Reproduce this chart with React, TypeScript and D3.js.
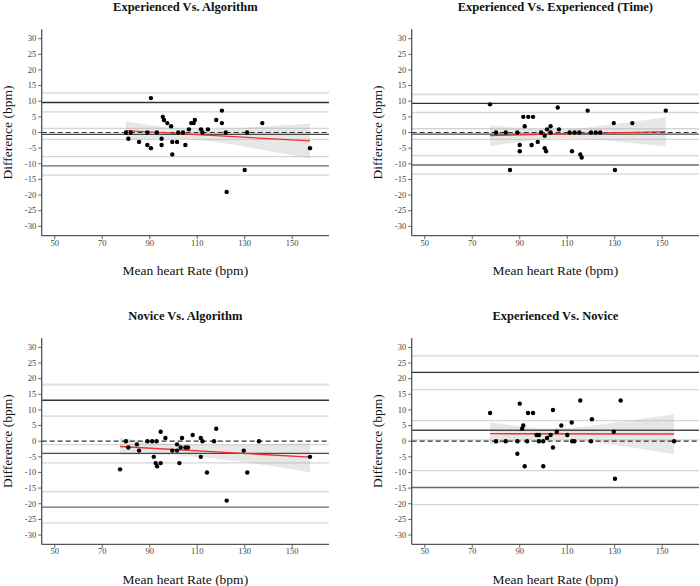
import React from "react";
import * as d3 from "d3";

// ---------- data ----------
const titles = [
  "Experienced Vs. Algorithm",
  "Experienced Vs. Experienced (Time)",
  "Novice Vs. Algorithm",
  "Experienced Vs. Novice",
];

const xTicks = [50, 70, 90, 110, 130, 150];
const yTicks = [30, 25, 20, 15, 10, 5, 0, -5, -10, -15, -20, -25, -30];

// scatter points
const expAlgX = [80, 81, 82, 85.5, 89, 89, 90.5, 90.5, 93, 95, 95, 95.5, 96, 97.4, 99, 99.5, 99.5, 101.5, 102, 104, 105, 106.5, 107.5, 108.5, 109, 111.6, 112.2, 114.5, 118, 120.4, 120.4, 122, 122.4, 130, 131, 137.4, 157.5];
const expAlgY = [0, -2, 0, -3, 0, -4, 11, -5, 0, -2, -4, 5, 4, 3, 2, -3, -7, -3, 0, 0, -4, 1, 3, 3, 4, 1, 0, 1, 4, 7, 3, 0, -19, -12, 0, 3, -5];

const expExpX = [77.5, 80, 84.1, 85.9, 89, 90, 90, 91.5, 92.1, 93.6, 95.6, 95, 97.6, 99, 100.5, 100.5, 101.1, 101.5, 103, 103, 106, 106.5, 111, 112, 113.1, 115.1, 115.5, 116.1, 118.6, 120, 122, 123.9, 129.6, 130.1, 137.4, 151.5];
const expExpY = [9, 0, 0, -12, 0, -4, -6, 5, 2, 5, 5, -4, -3, 0, -1, -5, -6, 1, 2, 0, 8, 1, 0, -6, 0, 0, -7, -8, 7, 0, 0, 0, 3, -12, 3, 7];

const novAlgX = [77.5, 80, 81, 84.6, 85.5, 89, 91, 91.7, 92.5, 92.9, 93.1, 94.6, 94.6, 96.6, 99.5, 101.5, 101.5, 102.5, 103, 103.6, 105, 106.1, 108.1, 111.5, 111.5, 112.2, 114.1, 117.1, 118, 122.4, 129.6, 131.1, 136, 157.5];
const novAlgY = [-9, 0, -2, -1, -3, 0, 0, -5, -7, 0, -8, 3, -7, 1, -3, -1, -3, -7, -2, 1, -2, -2, 2, 1, -5, 0, -10, 0, 4, -19, -3, -10, 0, -5];

const expNovX = [77.5, 80, 84.1, 89, 89, 90, 91, 91.5, 92.1, 93.1, 93.5, 95.6, 97.1, 98.1, 98.1, 99.9, 99.9, 101.5, 103, 104, 104, 105.6, 107.5, 110, 111.9, 112.1, 113, 115.5, 120, 120.4, 129.6, 130.1, 132.5, 155];
const expNovY = [9, 0, 0, 0, -4, 12, 4, 5, -8, 0, 9, 9, 2, 2, 0, 0, -8, 1, 2, 10, -2, 3, 5, 2, 6, 0, 0, 13, 0, 7, 3, -12, 13, 0];

// Bland-Altman reference lines: bias and limits of agreement with their CIs
const biasMean = [-0.6, -0.5, -3.9, 3.5];
const biasLo = [-2.2, -2.2, -6.9, 0.4];
const biasHi = [1.3, 1.2, -1.1, 6.6];
const upperLoA = [9.6, 9.3, 13.1, 22.0];
const upperLo = [6.6, 6.4, 8.0, 16.5];
const upperHi = [12.7, 12.2, 18.1, 27.3];
const lowerLoA = [-10.7, -10.4, -21.1, -14.8];
const lowerLo = [-13.6, -13.3, -26.1, -20.3];
const lowerHi = [-7.7, -7.4, -16.1, -9.4];

// regression line endpoints [x0, y0, x1, y1]
const regLines = [
  [80, 0.6, 157.5, -2.7],
  [77.5, -1.0, 151.5, 0.3],
  [77.5, -1.7, 157.5, -5.1],
  [77.5, 2.4, 155, 2.3],
];

// confidence ribbons
const ribbonX = [
  [80, 90, 100, 110, 120, 130, 140, 157.5],
  [77.5, 90, 100, 107, 115, 125, 135, 151.5],
  [77.5, 90, 100, 110, 120, 130, 140, 157.5],
  [77.5, 90, 100, 110, 120, 130, 140, 155],
];
const ribbonLo = [
  [-2.4, -2.0, -1.9, -2.3, -3.3, -4.5, -5.9, -8.3],
  [-4.3, -3.0, -2.2, -1.9, -2.0, -2.5, -3.2, -4.5],
  [-4.45, -4.3, -4.5, -5.0, -5.75, -6.7, -7.75, -9.9],
  [-1.25, 0.0, 0.6, 0.5, -0.2, -1.25, -2.35, -4.2],
];
const ribbonHi = [
  [3.6, 2.4, 1.4, 1.0, 1.1, 1.5, 2.0, 2.9],
  [2.3, 1.46, 1.0, 1.0, 1.3, 2.2, 3.2, 4.9],
  [1.1, -0.15, -0.8, -1.2, -1.25, -1.16, -0.97, -0.6],
  [6.0, 4.8, 4.1, 4.2, 4.95, 5.95, 7.05, 8.65],
];

const panelX = [expAlgX, expExpX, novAlgX, expNovX];
const panelY = [expAlgY, expExpY, novAlgY, expNovY];

// ---------- layout ----------
const W = 700;
const H = 586;
const FONT = "'Liberation Serif', 'DejaVu Serif', serif";
const PLOT_W = 287.3;
const PLOT_H = 206.4;

function Panel({ i }: { i: number }) {
  const col = i % 2;
  const row = Math.floor(i / 2);
  const left = 41.7 + col * 370;
  const top = 29.3 + row * 308.7;
  const right = left + PLOT_W;
  const bottom = top + PLOT_H;

  const x = d3.scaleLinear().domain([44.5, 165.5]).range([left, right]);
  const y = d3.scaleLinear().domain([-33, 33]).range([bottom, top]);

  const rib = ribbonX[i].map((xv, k) => ({ x: xv, lo: ribbonLo[i][k], hi: ribbonHi[i][k] }));
  const area = d3
    .area<{ x: number; lo: number; hi: number }>()
    .x((d) => x(d.x))
    .y0((d) => y(d.lo))
    .y1((d) => y(d.hi))
    .curve(d3.curveMonotoneX);

  const reg = regLines[i];
  const hline = (v: number, stroke: string, sw: number, dash?: string) => (
    <line
      x1={left}
      x2={right}
      y1={y(v)}
      y2={y(v)}
      stroke={stroke}
      strokeWidth={sw}
      strokeDasharray={dash}
    />
  );
  const light = "#d6d6d6";

  return (
    <g>
      <text
        x={(left + right) / 2}
        y={top - 18.3}
        textAnchor="middle"
        fontFamily={FONT}
        fontWeight="bold"
        fontSize={12.5}
        fill="#111"
      >
        {titles[i]}
      </text>

      {/* CI lines */}
      {hline(upperHi[i], "#e3e3e3", 2.2)}
      {hline(upperLo[i], light, 1.3)}
      {hline(biasHi[i], light, 1.3)}
      {hline(biasLo[i], light, 1.3)}
      {hline(lowerHi[i], light, 1.3)}
      {hline(lowerLo[i], light, 1.3)}

      {/* ribbon */}
      <path d={area(rib) || ""} fill="#b0b0b0" fillOpacity={0.3} stroke="none" />

      {/* LoA and bias */}
      {hline(upperLoA[i], "#333", 1.3)}
      {hline(biasMean[i], "#4a4a4a", 1.3)}
      {hline(lowerLoA[i], "#6a6a6a", 1.3)}
      {hline(0, "#333", 1.2, "5,3")}

      {/* regression */}
      <line x1={x(reg[0])} y1={y(reg[1])} x2={x(reg[2])} y2={y(reg[3])} stroke="#f0302a" strokeWidth={1.3} />

      {/* points */}
      {panelX[i].map((xv, k) => (
        <circle key={k} cx={x(xv)} cy={y(panelY[i][k])} r={2.2} fill="#000" />
      ))}

      {/* axes */}
      <line x1={left} x2={left} y1={top} y2={bottom} stroke="#555" strokeWidth={1.3} />
      <line x1={left} x2={right} y1={bottom} y2={bottom} stroke="#555" strokeWidth={1.3} />
      {yTicks.map((t) => (
        <g key={"y" + t}>
          <line x1={left - 3.5} x2={left} y1={y(t)} y2={y(t)} stroke="#555" strokeWidth={0.9} />
          <text
            x={left - 5.5}
            y={y(t)}
            dy="0.33em"
            textAnchor="end"
            fontFamily={FONT}
            fontSize={8.5}
            fill="#444"
          >
            {t}
          </text>
        </g>
      ))}
      {xTicks.map((t) => (
        <g key={"x" + t}>
          <line x1={x(t)} x2={x(t)} y1={bottom} y2={bottom + 3.5} stroke="#555" strokeWidth={0.9} />
          <text
            x={x(t)}
            y={bottom + 10}
            textAnchor="middle"
            fontFamily={FONT}
            fontSize={8.5}
            fill="#444"
          >
            {t}
          </text>
        </g>
      ))}
      <text
        x={(left + right) / 2}
        y={bottom + 39.5}
        textAnchor="middle"
        fontFamily={FONT}
        fontSize={13.5}
        fill="#111"
      >
        Mean heart Rate (bpm)
      </text>
      <text
        transform={`translate(${left - 30},${(top + bottom) / 2}) rotate(-90)`}
        textAnchor="middle"
        fontFamily={FONT}
        fontSize={13.5}
        fill="#111"
      >
        Difference (bpm)
      </text>
    </g>
  );
}

export default function App() {
  return (
    <svg
      width={W}
      height={H}
      viewBox={`0 0 ${W} ${H}`}
      style={{ position: "absolute", left: 0, top: 0, background: "#fff" }}
    >
      <rect width={W} height={H} fill="#fff" />
      {[0, 1, 2, 3].map((i) => (
        <Panel key={i} i={i} />
      ))}
    </svg>
  );
}
